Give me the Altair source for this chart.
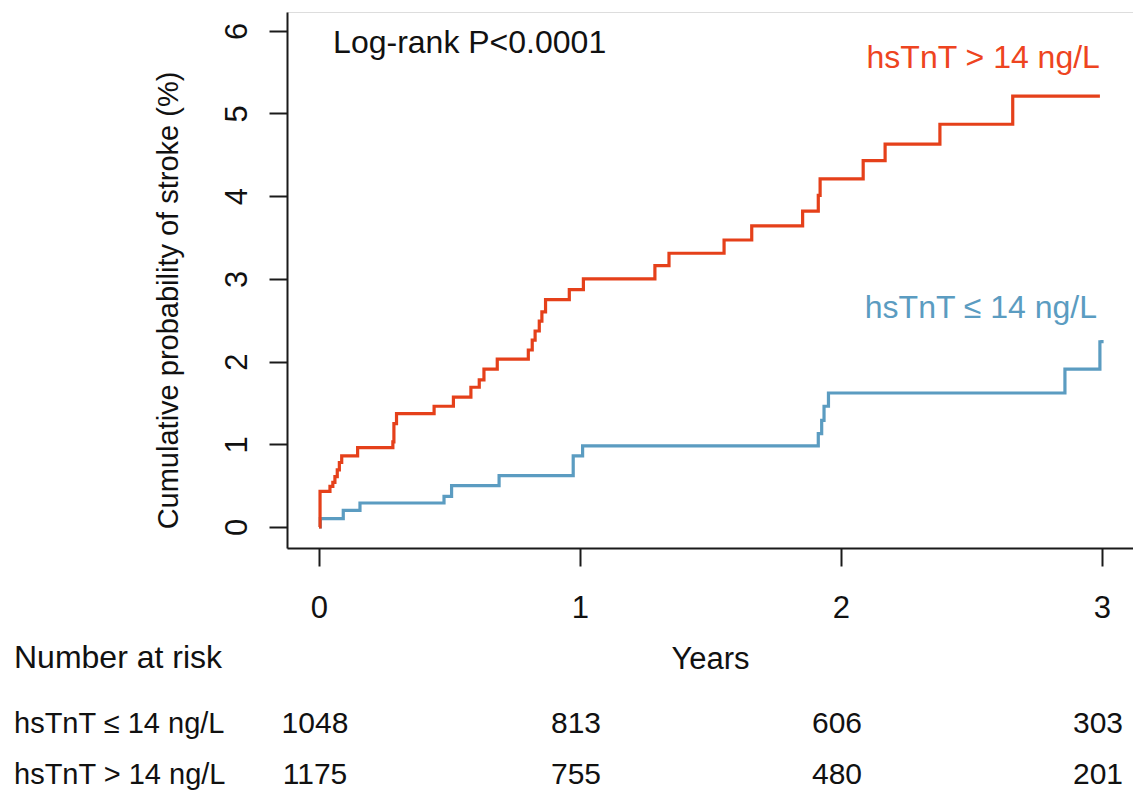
import altair as alt
import pandas as pd

# ---- data ----
red_t = [0.000, 0.004, 0.042, 0.053, 0.061, 0.070, 0.078, 0.087, 0.148, 0.283, 0.287, 0.297,
         0.441, 0.515, 0.582, 0.614, 0.632, 0.683, 0.802, 0.817, 0.828, 0.844, 0.854, 0.868,
         0.959, 1.013, 1.287, 1.341, 1.552, 1.658, 1.853, 1.913, 1.920, 2.085, 2.169, 2.379,
         2.658, 2.992]
red_p = [0.00, 0.43, 0.49, 0.54, 0.61, 0.69, 0.78, 0.86, 0.96, 1.03, 1.25, 1.37,
         1.46, 1.57, 1.69, 1.78, 1.91, 2.03, 2.14, 2.26, 2.37, 2.49, 2.60, 2.75,
         2.87, 3.00, 3.16, 3.31, 3.47, 3.64, 3.82, 4.01, 4.21, 4.43, 4.63, 4.87,
         5.21, 5.21]

blue_t = [0.000, 0.005, 0.093, 0.157, 0.479, 0.508, 0.690, 0.974, 1.010, 1.913, 1.926,
          1.935, 1.952, 2.858, 2.992, 3.000]
blue_p = [0.00, 0.10, 0.20, 0.29, 0.37, 0.50, 0.62, 0.86, 0.98, 1.13, 1.29,
          1.46, 1.62, 1.91, 2.24, 2.26]

x_ticks = [0, 1, 2, 3]
y_ticks = [0, 1, 2, 3, 4, 5, 6]
risk_times = [0, 1, 2, 3]
risk_low = [1048, 813, 606, 303]
risk_high = [1175, 755, 480, 201]

label_low = "hsTnT \u2264 14 ng/L"
label_high = "hsTnT > 14 ng/L"

RED = "#E5401A"
RED_TXT = "#EE4420"
BLUE = "#5B9CC1"
FONT = "Liberation Sans"
FS = 32

red_df = pd.DataFrame({"t": red_t, "p": red_p})
blue_df = pd.DataFrame({"t": blue_t, "p": blue_p})
low_df = pd.DataFrame({"t": risk_times, "n": [str(v) for v in risk_low]})
high_df = pd.DataFrame({"t": risk_times, "n": [str(v) for v in risk_high]})

xs = alt.Scale(domain=[-0.1226, 3.1188], nice=False, zero=False)
ys = alt.Scale(domain=[-0.254, 6.227], nice=False, zero=False)

xaxis = alt.Axis(values=x_ticks, format="d", tickSize=18, tickWidth=2, domainWidth=2,
                 domainColor="#1a1a1a", tickColor="#1a1a1a", labelColor="#111",
                 labelFont=FONT, labelFontSize=31, labelBaseline="alphabetic",
                 labelPadding=51, labelFlush=False, grid=False,
                 title="Years", titleFont=FONT, titleFontSize=31, titleFontWeight="normal",
                 titleColor="#111", titleBaseline="alphabetic", titleY=120)
yaxis = alt.Axis(values=y_ticks, format="d", tickSize=18, tickWidth=2, domainWidth=2,
                 domainColor="#1a1a1a", tickColor="#1a1a1a", labelColor="#111",
                 labelFont=FONT, labelFontSize=31, labelAngle=270, labelAlign="center",
                 labelBaseline="alphabetic", labelPadding=23, grid=False,
                 title="Cumulative probability of stroke (%)", titleFont=FONT,
                 titleFontSize=29, titleFontWeight="normal", titleColor="#111",
                 titleAngle=270, titleAlign="center", titleBaseline="middle",
                 titleX=-119, titleY=288)

blue_line = alt.Chart(blue_df).mark_line(interpolate="step-after", strokeWidth=3.2, color=BLUE).encode(
    x=alt.X("t:Q", scale=xs, axis=xaxis),
    y=alt.Y("p:Q", scale=ys, axis=yaxis),
)
red_line = alt.Chart(red_df).mark_line(interpolate="step-after", strokeWidth=3.2, color=RED).encode(
    x=alt.X("t:Q", scale=xs),
    y=alt.Y("p:Q", scale=ys),
)

ann_df = pd.DataFrame({"t": [0.054], "p": [5.73], "txt": ["Log-rank P<0.0001"]})
ann_red = pd.DataFrame({"t": [2.992], "p": [5.55], "txt": [label_high]})
ann_blue = pd.DataFrame({"t": [2.981], "p": [2.527], "txt": [label_low]})

def txt_layer(df, color, align):
    return alt.Chart(df).mark_text(font=FONT, fontSize=FS, color=color, align=align,
                                   baseline="alphabetic").encode(
        x=alt.X("t:Q", scale=xs), y=alt.Y("p:Q", scale=ys), text="txt:N")

logrank = txt_layer(ann_df, "#111", "left")
lab_red = txt_layer(ann_red, RED_TXT, "right")
lab_blue = txt_layer(ann_blue, BLUE, "right")

def risk_row(df, ypix):
    return alt.Chart(df).mark_text(font=FONT, fontSize=30, color="#111", align="center",
                                   baseline="alphabetic", dx=-4).encode(
        x=alt.X("t:Q", scale=xs), y=alt.value(ypix), text="n:N")

row_low = risk_row(low_df, 721)
row_high = risk_row(high_df, 772)

side_df = pd.DataFrame({"txt": ["Number at risk", label_low, label_high],
                        "row": [0, 1, 2]})
def side_text(i, ypix, fs):
    return alt.Chart(side_df).transform_filter(alt.datum.row == i).mark_text(
        font=FONT, fontSize=fs, color="#111", align="left", baseline="alphabetic").encode(
        x=alt.value(-273), y=alt.value(ypix), text="txt:N")

side0 = side_text(0, 656, 32)
side1 = side_text(1, 721, 29)
side2 = side_text(2, 772, 29)

chart = alt.layer(blue_line, red_line, logrank, lab_red, lab_blue,
                  row_low, row_high, side0, side1, side2).properties(
    width=846, height=536,
    padding={"left": 279, "top": 4, "right": 0, "bottom": 246},
    autosize=alt.AutoSizeParams(type="none"),
).configure_view(stroke=None).configure(font=FONT, background="white")

chart.save("out.html", embed_options={"renderer": "svg", "actions": False})
